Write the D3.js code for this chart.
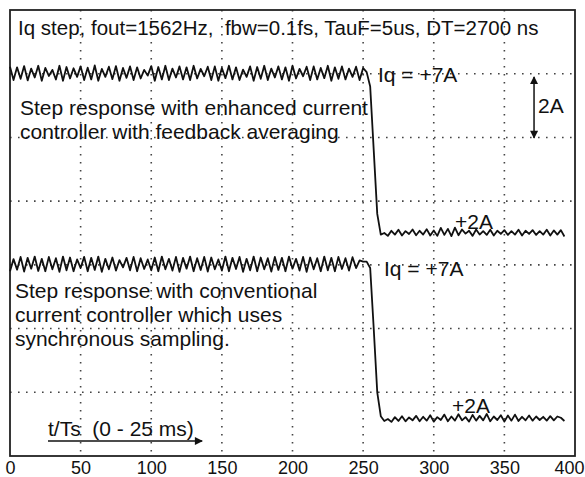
<!DOCTYPE html>
<html>
<head>
<meta charset="utf-8">
<script src="https://cdn.jsdelivr.net/npm/d3@7"></script>
<style>
  body { margin: 0; background: #fff; }
  svg { display: block; font-family: "Liberation Sans", Arial, sans-serif; }
  text { white-space: pre; }
</style>
</head>
<body>
<svg id="chart" width="585" height="477"></svg>
<script>
// sample period of the scope traces (t/Ts units)
const sampleStep = 2.5;

// x tick labels
const xTicks = [0, 50, 100, 150, 200, 250, 300, 350, 400];

// upper trace: enhanced controller with feedback averaging (A)
const enhancedHigh = [
  7.22, 6.80, 7.20, 6.84, 7.24, 6.79, 7.16, 6.88, 7.25, 6.78,
  7.18, 6.93, 7.12, 6.82, 7.25, 6.78, 7.21, 6.85, 7.17, 6.90,
  7.23, 6.80, 7.19, 6.82, 7.26, 6.78, 7.15, 6.90, 7.22, 6.83,
  7.24, 6.78, 7.18, 6.87, 7.23, 6.80, 7.20, 6.85, 7.12, 6.94,
  7.24, 6.78, 7.21, 6.82, 7.25, 6.80, 7.16, 6.88, 7.23, 6.82,
  7.20, 6.80, 7.25, 6.85, 7.15, 6.92, 7.22, 6.80, 7.23, 6.78,
  7.18, 6.86, 7.25, 6.82, 7.20, 6.80, 7.13, 6.90, 7.23, 6.78,
  7.21, 6.84, 7.25, 6.80, 7.16, 6.88, 7.23, 6.82, 7.20, 6.78,
  7.25, 6.85, 7.15, 6.92, 7.22, 6.80, 7.23, 6.82, 7.18, 6.86,
  7.25, 6.78, 7.20, 6.84, 7.23, 6.82, 7.16, 6.90, 7.22, 6.80,
  7.18
];
const enhancedStep = [7.05, 6.6, 4.6, 2.6, 1.95];
const enhancedLow = [
  2.00, 1.91, 2.07, 1.95, 2.10, 1.92, 2.06, 1.97, 2.11, 1.93,
  2.07, 1.95, 2.12, 1.92, 2.08, 1.91, 2.16, 1.94, 2.13, 1.90,
  2.17, 1.93, 2.11, 1.98, 2.07, 1.91, 2.11, 1.95, 2.06, 1.94,
  2.10, 1.92, 2.07, 1.97, 2.09, 1.94, 2.06, 1.95, 2.10, 1.92,
  2.07, 1.97, 2.09, 1.94, 2.06, 1.95, 2.10, 1.92, 2.08, 1.95,
  2.09, 1.89
];

// lower trace: conventional controller, synchronous sampling (A)
const conventionalHigh = [
  6.80, 7.18, 6.85, 7.25, 6.79, 7.22, 6.88, 7.26, 6.81, 7.19,
  6.80, 7.25, 6.86, 7.21, 6.78, 7.26, 6.83, 7.23, 6.80, 7.17,
  6.90, 7.25, 6.80, 7.22, 6.84, 7.26, 6.78, 7.19, 6.86, 7.23,
  6.82, 7.15, 6.92, 7.22, 6.83, 7.25, 6.80, 7.21, 6.87, 7.17,
  6.83, 7.23, 6.80, 7.26, 6.86, 7.19, 6.82, 7.25, 6.78, 7.22,
  6.88, 7.26, 6.80, 7.21, 6.84, 7.25, 6.79, 7.23, 6.86, 7.17,
  6.82, 7.26, 6.80, 7.22, 6.87, 7.25, 6.78, 7.19, 6.83, 7.26,
  6.80, 7.23, 6.86, 7.21, 6.79, 7.25, 6.84, 7.22, 6.80, 7.26,
  6.88, 7.19, 6.82, 7.25, 6.78, 7.23, 6.86, 7.21, 6.80, 7.26,
  6.83, 7.22, 6.80, 7.25, 6.87, 7.21, 6.82, 7.24, 6.90, 7.14,
  7.10
];
const conventionalStep = [7.1, 6.9, 5.0, 3.0, 2.25];
const conventionalLow = [
  2.10, 2.16, 2.07, 2.22, 2.10, 2.25, 2.09, 2.21, 2.12, 2.26,
  2.09, 2.23, 2.11, 2.28, 2.08, 2.22, 2.13, 2.30, 2.09, 2.24,
  2.11, 2.31, 2.12, 2.22, 2.08, 2.29, 2.11, 2.26, 2.12, 2.32,
  2.09, 2.24, 2.13, 2.28, 2.08, 2.27, 2.11, 2.30, 2.10, 2.23,
  2.12, 2.27, 2.11, 2.24, 2.13, 2.23, 2.11, 2.25, 2.12, 2.24,
  2.20, 2.10
];

// texts
const titleText = "Iq step, fout=1562Hz,  fbw=0.1fs, TauF=5us, DT=2700 ns";
const enhancedLines = ["Step response with enhanced current", "controller with feedback averaging"];
const conventionalLines = ["Step response with conventional", "current controller which uses", "synchronous sampling."];

const svg = d3.select("#chart");
const x = d3.scaleLinear().domain([0, 400]).range([10, 575]);
// display units: 1 grid division = 2 A
const y = d3.scaleLinear().domain([0, 14]).range([456, 10]);
const offsetEnhanced = 5, offsetConventional = -1;

function toPoints(values, offset) {
  return values.map((v, i) => [i * sampleStep, v + offset]);
}
const enhanced = toPoints(enhancedHigh.concat(enhancedStep, enhancedLow), offsetEnhanced);
const conventional = toPoints(conventionalHigh.concat(conventionalStep, conventionalLow), offsetConventional);

// arrow markers
const defs = svg.append("defs");
defs.append("marker").attr("id", "head")
  .attr("viewBox", "0 0 10 10").attr("refX", 9).attr("refY", 5)
  .attr("markerWidth", 10).attr("markerHeight", 8).attr("markerUnits", "userSpaceOnUse")
  .attr("orient", "auto-start-reverse")
  .append("path").attr("d", "M0,0 L10,5 L0,10 z").attr("fill", "#111");

// grid
const gridColor = "#444";
svg.append("g").attr("class", "grid-x")
  .selectAll("line").data([50, 100, 150, 200, 250, 300, 350]).join("line")
  .attr("x1", d => x(d)).attr("x2", d => x(d))
  .attr("y1", y(14)).attr("y2", y(0))
  .attr("stroke", gridColor).attr("stroke-width", 1.6)
  .attr("stroke-dasharray", "1.6,6.4");
svg.append("g").attr("class", "grid-y")
  .selectAll("line").data([2, 4, 6, 8, 10, 12]).join("line")
  .attr("x1", x(0)).attr("x2", x(400))
  .attr("y1", d => y(d)).attr("y2", d => y(d))
  .attr("stroke", gridColor).attr("stroke-width", 1.6)
  .attr("stroke-dasharray", "1.6,6.4");

// frame
svg.append("rect")
  .attr("x", x(0)).attr("y", y(14))
  .attr("width", x(400) - x(0)).attr("height", y(0) - y(14))
  .attr("fill", "none").attr("stroke", "#222").attr("stroke-width", 1.8);

// x axis labels
const xAxis = d3.axisBottom(x).tickValues(xTicks).tickSize(0).tickPadding(5);
svg.append("g")
  .attr("transform", `translate(0,${y(0)})`)
  .call(xAxis)
  .call(g => g.select(".domain").remove())
  .selectAll("text")
  .attr("font-size", 18).attr("fill", "#111")
  .attr("font-family", "Liberation Sans, Arial, sans-serif")
  .attr("dx", d => d === 400 ? -6 : 0);

// traces
const line = d3.line().x(d => x(d[0])).y(d => y(d[1]));
[enhanced, conventional].forEach(pts => {
  svg.append("path").datum(pts)
    .attr("d", line)
    .attr("fill", "none").attr("stroke", "#111")
    .attr("stroke-width", 1.8).attr("stroke-linejoin", "round");
});

// text annotations
const txt = (tx, ty, s, size = 21) => svg.append("text")
  .attr("x", x(tx)).attr("y", y(ty))
  .attr("font-size", size).attr("fill", "#111").text(s);

txt(5.7, 13.22, titleText, 20.5);
enhancedLines.forEach((s, i) => txt(7.1, 10.7 - i * 0.74, s));
conventionalLines.forEach((s, i) => txt(3.5, 4.96 - i * 0.76, s));
txt(260.5, 11.74, "Iq = +7A");
txt(264.8, 5.65, "Iq = +7A");
txt(315, 7.13, "+2A");
txt(313, 1.35, "+2A");
txt(373.8, 10.77, "2A");
txt(26.9, 0.63, "t/Ts  (0 - 25 ms)");

// arrows
svg.append("line")
  .attr("x1", x(26.9)).attr("x2", x(136))
  .attr("y1", y(0.47)).attr("y2", y(0.47))
  .attr("stroke", "#111").attr("stroke-width", 1.5)
  .attr("marker-end", "url(#head)");
svg.append("line")
  .attr("x1", x(371)).attr("x2", x(371))
  .attr("y1", y(11.9)).attr("y2", y(9.98))
  .attr("stroke", "#111").attr("stroke-width", 1.5)
  .attr("marker-start", "url(#head)").attr("marker-end", "url(#head)");
</script>
</body>
</html>
